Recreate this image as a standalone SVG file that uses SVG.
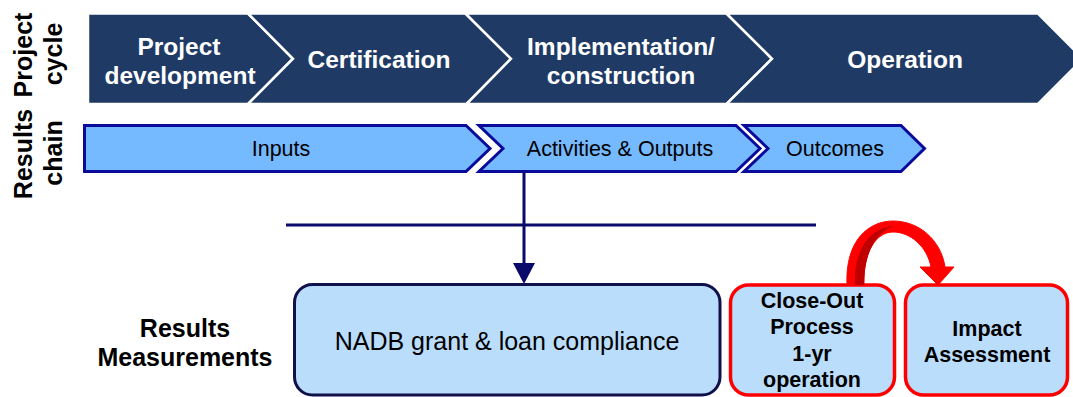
<svg xmlns="http://www.w3.org/2000/svg" width="1073" height="397" viewBox="0 0 1073 397">
<style>
.band{fill:#1F3B65;stroke:#FFFFFF;stroke-width:2.5;stroke-linejoin:miter}
.bt{font-family:"Liberation Sans",Arial,sans-serif;font-weight:bold;font-size:24.5px;fill:#FFFFFF;text-anchor:middle}
.chain{fill:#75B9FF;stroke:#0B0B9B;stroke-width:3;stroke-linejoin:miter}
.ct{font-family:"Liberation Sans",Arial,sans-serif;font-size:21.5px;fill:#000000;text-anchor:middle}
.nt{font-family:"Liberation Sans",Arial,sans-serif;font-size:25px;fill:#000000;text-anchor:middle}
.lab{font-family:"Liberation Sans",Arial,sans-serif;font-weight:bold;font-size:25px;fill:#000000;text-anchor:middle}
.box{fill:#BBDDFC;stroke:#10104A;stroke-width:3}
.rbox{fill:#BBDDFC;stroke:#FF0000;stroke-width:3.5}
.bx{font-family:"Liberation Sans",Arial,sans-serif;font-weight:bold;font-size:21.5px;fill:#000000;text-anchor:middle}
.nav{stroke:#0A0A6A;stroke-width:3;fill:none}
</style>
<g id="label-project-cycle">
<text class="lab" transform="translate(32,55) rotate(-90)">Project</text>
<text class="lab" transform="translate(62,54) rotate(-90)">cycle</text>
</g>
<g id="label-results-chain">
<text class="lab" transform="translate(31.5,154) rotate(-90)">Results</text>
<text class="lab" transform="translate(61.5,153) rotate(-90)">chain</text>
</g>
<g id="label-results-measurements">
<text class="lab" x="185" y="337">Results</text>
<text class="lab" x="185" y="366">Measurements</text>
</g>
<g id="cycle-project-development">
<polygon class="band" points="88,13.5 248,13.5 293,58.75 248,104 88,104"/>
<text class="bt" x="179" y="55">Project</text>
<text class="bt" x="180" y="84">development</text>
</g>
<g id="cycle-certification">
<polygon class="band" points="248,13.5 465.5,13.5 511,58.75 466.5,104 248,104 293,58.75"/>
<text class="bt" x="379" y="67.5">Certification</text>
</g>
<g id="cycle-implementation">
<polygon class="band" points="465.5,13.5 726.5,13.5 772,58.75 726.5,104 466.5,104 511,58.75"/>
<text class="bt" x="621" y="55">Implementation/</text>
<text class="bt" x="621" y="84">construction</text>
</g>
<g id="cycle-operation">
<polygon class="band" points="726.5,13.5 1038,13.5 1083,58.75 1038,104 726.5,104 772,58.75"/>
<text class="bt" x="905" y="67.5">Operation</text>
</g>
<g id="chain-inputs">
<polygon class="chain" points="84.5,125.5 466,125.5 490,148.5 466,171.5 84.5,171.5"/>
<text class="ct" x="281" y="156">Inputs</text>
</g>
<g id="chain-activities">
<polygon class="chain" points="479,125.5 736,125.5 760,148.5 736,171.5 479,171.5 503,148.5"/>
<text class="ct" x="620" y="156">Activities &amp; Outputs</text>
</g>
<g id="chain-outcomes">
<polygon class="chain" points="744,125.5 901,125.5 924.5,148.5 901,171.5 744,171.5 768,148.5"/>
<text class="ct" x="835" y="156">Outcomes</text>
</g>
<g id="node-nadb">
<rect class="box" x="294.5" y="284.5" width="425.5" height="110.5" rx="18"/>
<text class="nt" x="507" y="350">NADB grant &amp; loan compliance</text>
</g>
<g id="node-closeout">
<rect class="rbox" x="730.5" y="285" width="164" height="110" rx="18"/>
<text class="bx" x="812" y="307.5">Close-Out</text>
<text class="bx" x="812" y="334">Process</text>
<text class="bx" x="812" y="360.5">1-yr</text>
<text class="bx" x="812" y="387">operation</text>
</g>
<g id="node-impact">
<rect class="rbox" x="905.5" y="285" width="162" height="110" rx="18"/>
<text class="bx" x="987" y="335.5">Impact</text>
<text class="bx" x="987" y="362">Assessment</text>
</g>
<g id="connectors">
<line class="nav" x1="286" y1="225" x2="816" y2="225"/>
<line class="nav" x1="524" y1="172" x2="524" y2="265"/>
<polygon fill="#0A0A6A" points="513,263 535,263 524,284"/>
<path fill="#FF0000" stroke="#FF0000" stroke-width="1" d="M847,285 C845,240 869,221 893,221 C919,221 941,240 945,267 L954,267 L938,285 L920,267 L931,267 C927,246 910,232 893,232 C876,232 863,252 864,285 Z"/>
<path fill="#C00000" d="M855,285 C853,250 870,228 893,226 C876,233 864,252 864,285 Z"/>
</g>
</svg>
